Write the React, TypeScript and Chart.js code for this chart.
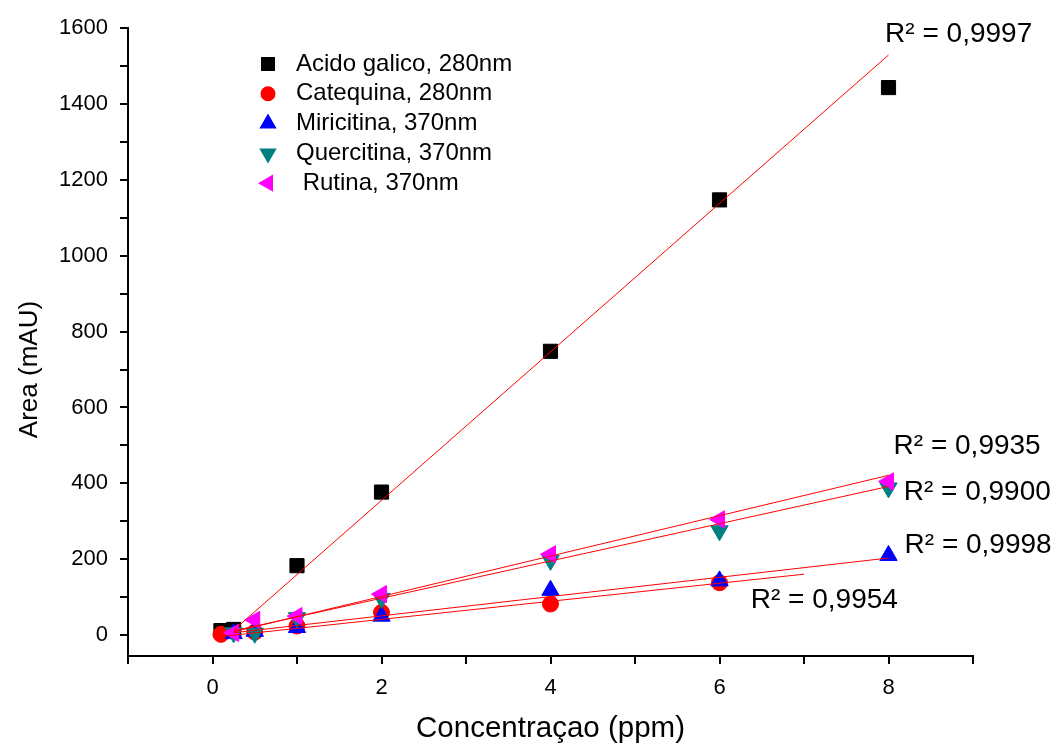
import { useEffect, useRef } from 'react';
import { Chart, registerables } from 'chart.js';

Chart.register(...registerables);

// Series names (legend text)
const seriesNames = [
  'Acido galico, 280nm',
  'Catequina, 280nm',
  'Miricitina, 370nm',
  'Quercitina, 370nm',
  ' Rutina, 370nm',
];

// Measured peak areas (mAU) against concentration (ppm)
const galicoX = [0.1, 0.25, 1, 2, 4, 6, 8];
const galicoY = [12, 15, 183, 377, 748, 1147, 1443];
const catequinaX = [0.1, 0.5, 1, 2, 4, 6];
const catequinaY = [2, 8, 24, 60, 82, 138];
const miricitinaX = [0.25, 0.5, 1, 2, 4, 6, 8];
const miricitinaY = [4, 10, 20, 50, 118, 143, 210];
const quercitinaX = [0.25, 0.5, 1, 2, 4, 6, 8];
const quercitinaY = [6, 5, 46, 97, 197, 275, 388];
const rutinaX = [0.25, 0.5, 1, 2, 4, 6, 8];
const rutinaY = [6, 40, 50, 108, 213, 305, 405];

// Linear calibration fits: y = slope * x + intercept over [fitFrom, fitTo]
const fitSlope = [195.6, 23.8, 25.4, 49.1, 53.2];
const fitIntercept = [-36, -6, 0, -1, -4.5];
const fitFrom = [0.25, 0.1, 0.25, 0.25, 0.25];
const fitTo = [8, 7, 8, 8, 8];
const rSquared = ['0,9997', '0,9954', '0,9998', '0,9900', '0,9935'];

// Axis ticks
const xTickLabels = [0, 2, 4, 6, 8];
const yTickLabels = [0, 200, 400, 600, 800, 1000, 1200, 1400, 1600];

const FONT = '"Liberation Sans", Arial, sans-serif';

const seriesX = [galicoX, catequinaX, miricitinaX, quercitinaX, rutinaX];
const seriesY = [galicoY, catequinaY, miricitinaY, quercitinaY, rutinaY];
const colors = ['#000000', '#ff0000', '#0000ff', '#008080', '#ff00ff'];
const pointStyles = ['rect', 'circle', 'triangle', 'triangle', 'triangle'];
const rotations = [0, 0, 0, 180, 270];
const radii = [10, 8, 10, 10, 10];

// where each R² note sits, in axis units (left edge, vertical middle)
const notePlacement = [
  [7.96, 1584],
  [6.37, 92],
  [8.19, 237],
  [8.18, 376],
  [8.06, 497],
];

function drawMarker(
  ctx: CanvasRenderingContext2D,
  kind: number,
  x: number,
  y: number,
  color: string,
) {
  ctx.save();
  ctx.fillStyle = color;
  ctx.beginPath();
  if (kind === 0) {
    ctx.rect(x - 7, y - 7, 14, 14);
  } else if (kind === 1) {
    ctx.arc(x, y, 7.5, 0, Math.PI * 2);
  } else {
    const r = 10;
    const rot = (rotations[kind] * Math.PI) / 180;
    for (let i = 0; i < 3; i++) {
      const a = -Math.PI / 2 + rot + (i * 2 * Math.PI) / 3;
      const px = x + r * Math.cos(a);
      const py = y + r * Math.sin(a);
      if (i === 0) ctx.moveTo(px, py);
      else ctx.lineTo(px, py);
    }
    ctx.closePath();
  }
  ctx.fill();
  ctx.restore();
}

const annotationsPlugin = {
  id: 'calibrationNotes',
  afterDraw(chart: any) {
    const { ctx, chartArea, scales } = chart;
    ctx.save();
    // legend
    ctx.font = `24px ${FONT}`;
    ctx.textBaseline = 'middle';
    ctx.textAlign = 'left';
    seriesNames.forEach((name, i) => {
      const y = chartArea.top + 36 + i * 29.8;
      drawMarker(ctx, i, chartArea.left + 140, y, colors[i]);
      ctx.fillStyle = '#000';
      ctx.fillText(name, chartArea.left + 168, y);
    });
    // R² notes
    ctx.font = `28px ${FONT}`;
    ctx.fillStyle = '#000';
    rSquared.forEach((r2, i) => {
      const px = scales.x.getPixelForValue(notePlacement[i][0]);
      const py = scales.y.getPixelForValue(notePlacement[i][1]);
      ctx.fillText(`R² = ${r2}`, px, py);
    });
    // y-axis title, sitting a little below the middle of the axis
    ctx.font = `26px ${FONT}`;
    ctx.textAlign = 'center';
    ctx.translate(30, scales.y.getPixelForValue(700));
    ctx.rotate(-Math.PI / 2);
    ctx.fillText('Area (mAU)', 0, 0);
    ctx.restore();
  },
};

export default function App() {
  const canvasRef = useRef<HTMLCanvasElement | null>(null);

  useEffect(() => {
    if (!canvasRef.current) return;

    const pointSets = seriesNames.map((name, i) => ({
      label: name,
      data: seriesX[i].map((x, k) => ({ x, y: seriesY[i][k] })),
      backgroundColor: colors[i],
      borderColor: colors[i],
      borderWidth: 1,
      pointStyle: pointStyles[i],
      rotation: rotations[i],
      pointRadius: radii[i],
      showLine: false,
      order: 6 - i,
    }));

    const fitSets = fitSlope.map((m, i) => ({
      label: `fit ${i}`,
      data: [fitFrom[i], fitTo[i]].map((x) => ({ x, y: m * x + fitIntercept[i] })),
      borderColor: '#ff0000',
      borderWidth: 1,
      pointRadius: 0,
      showLine: true,
      fill: false,
      order: 0,
    }));

    const chart = new Chart(canvasRef.current, {
      type: 'scatter',
      data: { datasets: [...pointSets, ...fitSets] as any },
      options: {
        animation: false,
        responsive: false,
        layout: { padding: { left: 0, right: 89, top: 28, bottom: 0 } },
        plugins: {
          legend: { display: false },
          tooltip: { enabled: false },
        },
        scales: {
          x: {
            type: 'linear',
            min: -1,
            max: 9,
            afterFit: (s: any) => {
              s.height = 91;
            },
            border: { display: true, color: '#000', width: 2 },
            grid: {
              display: true,
              drawOnChartArea: false,
              drawTicks: true,
              tickLength: 8,
              lineWidth: 2,
              color: '#000',
            },
            ticks: {
              stepSize: 1,
              autoSkip: false,
              includeBounds: true,
              maxRotation: 0,
              padding: 11,
              color: '#000',
              font: { family: FONT, size: 22 },
              callback: (v: any) => (xTickLabels.includes(v) ? String(v) : ''),
            },
            title: {
              display: true,
              text: 'Concentraçao (ppm)',
              color: '#000',
              font: { family: FONT, size: 29.5 },
              padding: { top: 0, bottom: 0 },
            },
          },
          y: {
            type: 'linear',
            min: -55,
            max: 1600,
            afterFit: (s: any) => {
              s.width = 128;
            },
            afterBuildTicks: (s: any) => {
              s.ticks = s.ticks.filter((t: any) => t.value % 100 === 0);
            },
            border: { display: true, color: '#000', width: 2 },
            grid: {
              display: true,
              drawOnChartArea: false,
              drawTicks: true,
              tickLength: 8,
              lineWidth: 2,
              color: '#000',
            },
            ticks: {
              stepSize: 100,
              autoSkip: false,
              includeBounds: false,
              padding: 12,
              color: '#000',
              font: { family: FONT, size: 22 },
              callback: (v: any) => (yTickLabels.includes(v) ? String(v) : ''),
            },
            title: { display: false },
          },
        },
      },
      plugins: [annotationsPlugin],
    });

    return () => chart.destroy();
  }, []);

  return (
    <div style={{ position: 'absolute', left: 0, top: 0, width: 1062, height: 747, background: '#fff' }}>
      <canvas ref={canvasRef} width={1062} height={747} style={{ display: 'block' }} />
    </div>
  );
}
